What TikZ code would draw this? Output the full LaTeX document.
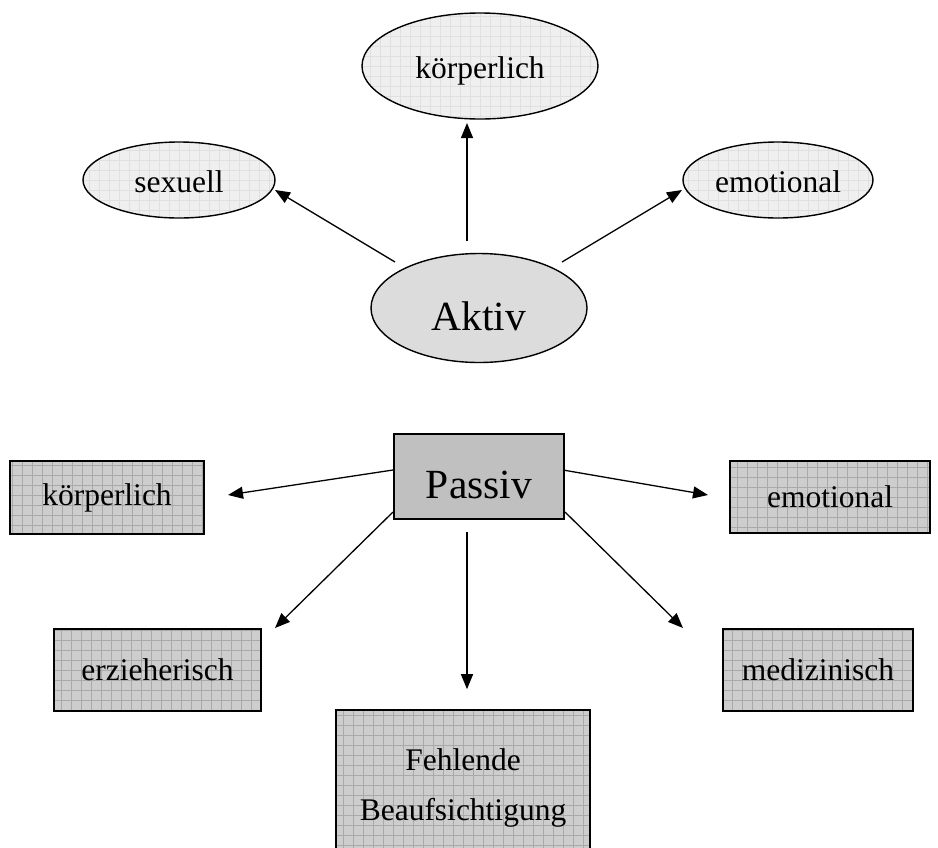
\documentclass[tikz,border=0pt]{standalone}
\usepackage{fontspec}
\setmainfont{Liberation Serif}
\usetikzlibrary{shapes.geometric,arrows.meta}
\definecolor{ellfill}{HTML}{EFEFEF}
\definecolor{ellgrid}{HTML}{E0E0E0}
\definecolor{boxfill}{HTML}{CDCDCD}
\definecolor{boxgrid}{HTML}{A9A9A9}
\definecolor{aktfill}{HTML}{DCDCDC}
\definecolor{pasfill}{HTML}{C0C0C0}
\tikzset{
  small/.style={font=\fontsize{31.5}{50}\selectfont},
  big/.style={font=\fontsize{41.5}{48}\selectfont},
  ell/.style={ellipse, draw=black, line width=1.4pt, fill=ellfill, inner sep=0pt,
    path picture={\draw[ellgrid, line width=0.6pt] (path picture bounding box.south west) grid[step=10pt] (path picture bounding box.north east);}},
  aktiv/.style={ellipse, draw=black, line width=1.4pt, fill=aktfill, inner sep=0pt},
  gbox/.style={rectangle, draw=black, line width=1.6pt, fill=boxfill, inner sep=0pt, small, align=center,
    path picture={\draw[boxgrid, line width=0.6pt] (path picture bounding box.south west) grid[step=10pt] (path picture bounding box.north east);}},
  pbox/.style={rectangle, draw=black, line width=1.6pt, fill=pasfill, inner sep=0pt},
  arr/.style={-{Triangle[length=15pt,width=12pt]}, line width=1.3pt, black},
}
\begin{document}
\begin{tikzpicture}[x=1pt,y=-1pt]
\clip (0,0) rectangle (938,847);
\fill[white] (0,0) rectangle (938,847);
% Aktiv part
\node[ell, minimum width=236pt, minimum height=106pt, label={[small, yshift=-5pt]center:körperlich}] (kE) at (480,66) {};
\node[ell, minimum width=192pt, minimum height=76pt, label={[small, yshift=-2pt]center:sexuell}] (sE) at (179,180) {};
\node[ell, minimum width=190pt, minimum height=76pt, label={[small, yshift=-2pt]center:emotional}] (eE) at (778,180) {};
\node[aktiv, minimum width=216pt, minimum height=109pt, label={[big, yshift=-8pt]center:Aktiv}] (A) at (479,308) {};
% Passiv part
\node[pbox, minimum width=170pt, minimum height=85pt, label={[big, yshift=-8pt]center:Passiv}] (P) at (479,476.5) {};
\node[gbox, minimum width=194pt, minimum height=73pt] (kB) at (107,497.5) {körperlich};
\node[gbox, minimum width=200pt, minimum height=72pt] (eB) at (830,497) {emotional};
\node[gbox, minimum width=207pt, minimum height=82pt] (zB) at (157.5,670) {erzieherisch};
\node[gbox, minimum width=190pt, minimum height=82pt] (mB) at (818,670) {medizinisch};
\node[gbox, minimum width=254pt, minimum height=150pt] (fB) at (463,785) {};
\node[small, align=center, inner sep=0pt] (fT) at (463,788) {Fehlende\\Beaufsichtigung};
% arrows
\draw[arr] ([xshift=-12pt,yshift=67pt]A.center) -- ([xshift=-13pt,yshift=-57pt]kE.center);
\draw[arr] ([xshift=-84pt,yshift=46pt]A.center) -- ([xshift=96pt,yshift=-10pt]sE.center);
\draw[arr] ([xshift=83pt,yshift=46pt]A.center) -- ([xshift=-96pt,yshift=-10pt]eE.center);
\draw[arr] ([xshift=-86pt,yshift=6.5pt]P.center) -- ([xshift=121pt,yshift=2.5pt]kB.center);
\draw[arr] ([xshift=84pt,yshift=6.5pt]P.center) -- ([xshift=-122pt,yshift=2pt]eB.center);
\draw[arr] ([xshift=-86pt,yshift=-35.5pt]P.center) -- ([xshift=117.5pt,yshift=42pt]zB.center);
\draw[arr] ([xshift=-12pt,yshift=-55.5pt]P.center) -- ([xshift=4pt,yshift=20pt]fB.north);
\draw[arr] ([xshift=86pt,yshift=-35.5pt]P.center) -- ([xshift=-135pt,yshift=42pt]mB.center);
\end{tikzpicture}
\end{document}
